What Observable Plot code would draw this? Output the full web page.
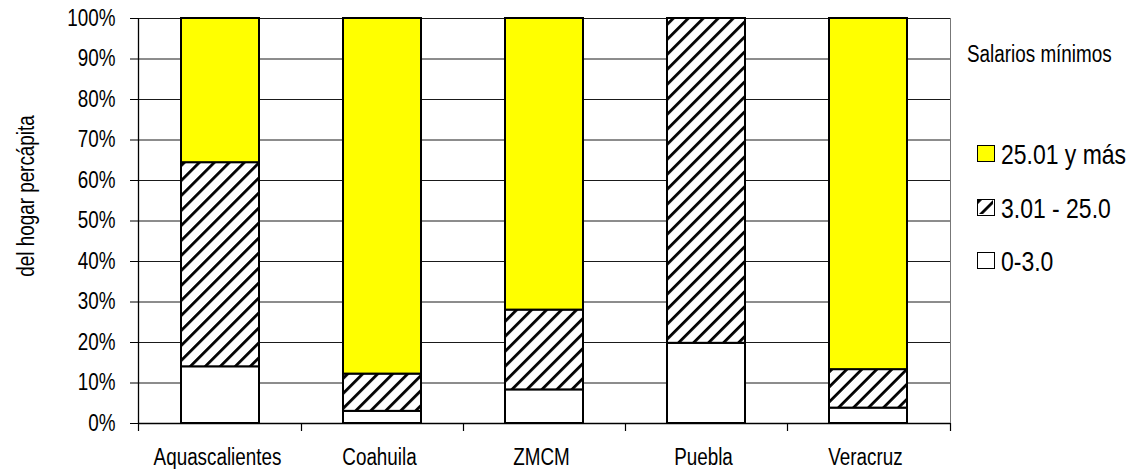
<!DOCTYPE html>
<html>
<head>
<meta charset="utf-8">
<script src="https://cdn.jsdelivr.net/npm/d3@7"></script>
<script src="https://cdn.jsdelivr.net/npm/@observablehq/plot@0.6"></script>
<style>
  html, body { margin: 0; padding: 0; background: #fff; }
  #wrap { position: relative; width: 1133px; height: 469px; font-family: "Liberation Sans", Arial, sans-serif; color: #000; }
  .abs { position: absolute; white-space: nowrap; }
  .narrow { display: inline-block; transform: scaleX(0.82); transform-origin: left center; }
  .swatch { position: absolute; box-sizing: border-box; border: 1.5px solid #000; }
</style>
</head>
<body>
<svg width="0" height="0" style="position:absolute">
  <defs>
    <pattern id="hatch" patternUnits="userSpaceOnUse" width="10.6" height="10.6" patternTransform="rotate(45)">
      <rect width="10.6" height="10.6" fill="#fff"></rect>
      <line x1="1" y1="0" x2="1" y2="10.6" stroke="#000" stroke-width="3.6"></line>
    </pattern>
  </defs>
</svg>
<div id="wrap"></div>
<script>
const categories = ["Aquascalientes", "Coahuila", "ZMCM", "Puebla", "Veracruz"];
const seriesNames = ["0-3.0", "3.01 - 25.0", "25.01 y más"];
const low  = [14.0, 3.0, 8.3, 19.8, 3.8];
const mid  = [50.4, 9.2, 19.7, 80.2, 9.5];
const high = [35.6, 87.8, 72.0, 0.0, 86.7];
const yTicks = [0, 10, 20, 30, 40, 50, 60, 70, 80, 90, 100];
const fills = ["#ffffff", "url(#hatch)", "#ffff00"];
const yTitle = "del hogar percápita";
const legendTitle = "Salarios mínimos";

const seriesValues = [low, mid, high];
const table = [];
categories.forEach((c, i) => {
  seriesNames.forEach((s, j) => {
    const v = seriesValues[j][i];
    if (v > 0) table.push({cat: c, series: s, value: v});
  });
});

const FONT = '"Liberation Sans", Arial, sans-serif';

function decor(...args) {
  const scales = args.length >= 4 ? args[1] : args[0];
  const dims = args.length >= 4 ? args[3] : args[1];
  const x = scales.x;
  const bw = typeof x.bandwidth === "function" ? x.bandwidth() : scales.scales.x.bandwidth;
  const dom = typeof x.domain === "function" ? x.domain() : categories;
  const left = dims.marginLeft, right = dims.width - dims.marginRight;
  const top = dims.marginTop, bottom = dims.height - dims.marginBottom;
  const bounds = [left];
  for (let i = 0; i < dom.length - 1; i++) {
    bounds.push((x(dom[i]) + x(dom[i + 1])) / 2 + bw / 2);
  }
  bounds.push(right);
  const g = d3.create("svg:g").attr("fill", "none").attr("stroke", "#000");
  g.append("line").attr("x1", right + 0.5).attr("x2", right + 0.5).attr("y1", top).attr("y2", bottom).attr("stroke", "#777");
  g.append("line").attr("x1", left + 0.5).attr("x2", left + 0.5).attr("y1", top).attr("y2", bottom + 0.5).attr("stroke-width", 1.3);
  g.append("line").attr("x1", left).attr("x2", right).attr("y1", bottom + 0.5).attr("y2", bottom + 0.5).attr("stroke-width", 1.3);
  for (const b of bounds) {
    g.append("line").attr("x1", Math.round(b) + 0.5).attr("x2", Math.round(b) + 0.5).attr("y1", bottom).attr("y2", bottom + 8).attr("stroke-width", 1.2);
  }
  return g.node();
}

const chart = Plot.plot({
  width: 1133,
  height: 469,
  marginLeft: 138,
  marginRight: 183,
  marginTop: 18,
  marginBottom: 46,
  style: {fontFamily: FONT, fontSize: "23px", color: "#000", background: "#fff"},
  x: {type: "band", domain: categories, paddingInner: 0.52, paddingOuter: 0.26, label: null},
  y: {domain: [0, 100], label: null},
  color: {type: "ordinal", domain: seriesNames, range: fills},
  marks: [
    Plot.gridY(yTicks, {stroke: "#1a1a1a", strokeOpacity: 1, strokeWidth: 1}),
    Plot.barY(table, {x: "cat", y: "value", fill: "series", stroke: "#000", strokeWidth: 2}),
    Plot.axisY(yTicks, {tickSize: 8, tickPadding: 15, tickFormat: d => d + "%", fontSize: 23, stroke: "#000"}),
    Plot.axisX({tickSize: 0, tickPadding: 25, fontSize: 23, dx: -3}),
    decor
  ]
});

// condensed look (Arial-Narrow-like): squeeze every text horizontally about its anchor
d3.select(chart).selectAll("text").each(function () {
  const t = this.getAttribute("transform") || "";
  this.setAttribute("transform", (t + " scale(0.82,1)").trim());
});

const wrap = document.getElementById("wrap");
wrap.appendChild(chart);

// y-axis title
const yt = document.createElement("div");
yt.className = "abs";
yt.style.left = "26px";
yt.style.top = "196px";
yt.style.fontSize = "23px";
yt.style.lineHeight = "26px";
yt.style.transform = "translate(-50%,-50%) rotate(-90deg) scale(0.82,1)";
yt.textContent = yTitle;
wrap.appendChild(yt);

// legend
const lt = document.createElement("div");
lt.className = "abs";
lt.style.left = "967px";
lt.style.top = "41px";
lt.style.fontSize = "23px";
lt.style.lineHeight = "26px";
lt.innerHTML = '<span class="narrow"></span>';
lt.firstChild.textContent = legendTitle;
wrap.appendChild(lt);

const order = [2, 1, 0];
const baselines = [165, 219, 272];
order.forEach((j, k) => {
  const B = baselines[k];
  const sw = document.createElement("div");
  sw.className = "swatch";
  sw.style.left = "977px";
  sw.style.top = (B - 20) + "px";
  sw.style.width = "18px";
  sw.style.height = "17px";
  if (fills[j].startsWith("url")) {
    const s = d3.create("svg").attr("width", 15).attr("height", 14).style("display", "block");
    s.append("rect").attr("width", 15).attr("height", 14).attr("fill", fills[j]);
    sw.appendChild(s.node());
  } else {
    sw.style.background = fills[j];
  }
  wrap.appendChild(sw);
  const tx = document.createElement("div");
  tx.className = "abs";
  tx.style.left = "1001px";
  tx.style.top = (B - 23.7) + "px";
  tx.style.fontSize = "28px";
  tx.style.lineHeight = "28px";
  tx.innerHTML = '<span class="narrow"></span>';
  tx.firstChild.textContent = seriesNames[j];
  wrap.appendChild(tx);
});
</script>
</body>
</html>
